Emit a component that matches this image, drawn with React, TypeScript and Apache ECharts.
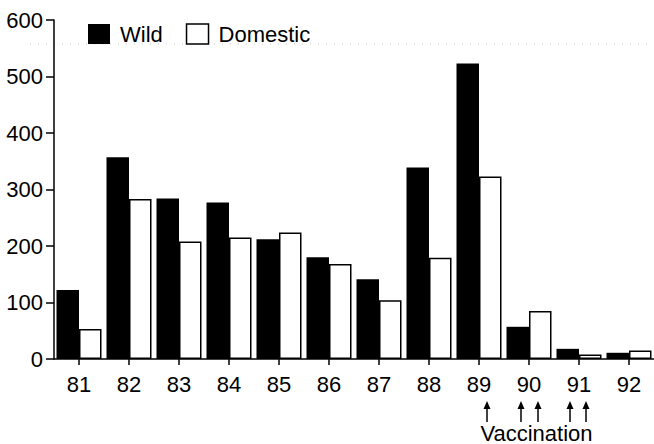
import React, { useEffect, useRef } from "react";
import * as echarts from "echarts";

const years = ["81", "82", "83", "84", "85", "86", "87", "88", "89", "90", "91", "92"];
const wild = [122, 357, 284, 277, 212, 180, 141, 339, 523, 57, 18, 11];
const domestic = [53, 283, 208, 215, 224, 168, 104, 179, 323, 85, 8, 15];
const yMin = 0;
const yMax = 600;
const yInterval = 100;
// vaccination campaigns: year and pixel offset from the category centre
const vaccinations = [
  { year: "89", offset: 8 },
  { year: "90", offset: -8 },
  { year: "90", offset: 9 },
  { year: "91", offset: -9 },
  { year: "91", offset: 7 },
];
const vaccinationLabel = "Vaccination";

const FONT = "'Liberation Sans', Arial, Helvetica, sans-serif";
const FS = 22;

export default function App() {
  const ref = useRef<HTMLDivElement>(null);
  useEffect(() => {
    if (!ref.current) return;
    const chart = echarts.init(ref.current, null, { renderer: "svg" });
    chart.setOption({
      animation: false,
      backgroundColor: "#fff",
      textStyle: { fontFamily: FONT, color: "#000" },
      grid: { left: 54, right: 0, top: 20, bottom: 85, containLabel: false },
      legend: {
        left: 88,
        top: 23,
        padding: 0,
        itemWidth: 22,
        itemHeight: 20,
        itemGap: 23,
        icon: "rect",
        textStyle: { fontSize: FS, color: "#000", fontFamily: FONT, padding: [0, 0, 0, 5] },
        data: [
          { name: "Wild", itemStyle: { color: "#000", borderWidth: 0 } },
          { name: "Domestic", itemStyle: { color: "#fff", borderColor: "#000", borderWidth: 1.5 } },
        ],
      },
      xAxis: {
        type: "category",
        data: years,
        boundaryGap: true,
        axisLine: { show: true, lineStyle: { color: "#000", width: 1.5 } },
        axisTick: { show: true, alignWithLabel: true, length: 6, lineStyle: { color: "#000", width: 1.5 } },
        axisLabel: { fontSize: FS, color: "#000", margin: 14, fontFamily: FONT },
        splitLine: { show: false },
      },
      yAxis: {
        type: "value",
        min: yMin,
        max: yMax,
        interval: yInterval,
        axisLine: { show: true, lineStyle: { color: "#000", width: 1.5 } },
        axisTick: { show: true, length: 8, lineStyle: { color: "#000", width: 1.5 } },
        axisLabel: { fontSize: FS, color: "#000", margin: 11, fontFamily: FONT },
        splitLine: { show: false },
      },
      series: [
        {
          name: "Wild",
          type: "bar",
          data: wild,
          barGap: "0%",
          barCategoryGap: "10%",
          itemStyle: { color: "#000" },
        },
        {
          name: "Domestic",
          type: "bar",
          data: domestic,
          barGap: "0%",
          barCategoryGap: "10%",
          itemStyle: { color: "#fff", borderColor: "#000", borderWidth: 1.5 },
        },
      ],
    });

    const arrowTop = 401;
    const arrowBottom = 422;
    const elements: any[] = [];
    const xs: number[] = [];
    vaccinations.forEach((v) => {
      const cx = chart.convertToPixel({ xAxisIndex: 0 }, v.year) as number;
      const x = cx + v.offset;
      xs.push(x);
      elements.push({
        type: "line",
        shape: { x1: x, y1: arrowTop + 4, x2: x, y2: arrowBottom },
        style: { stroke: "#000", lineWidth: 1.5 },
        silent: true,
      });
      elements.push({
        type: "polygon",
        shape: { points: [[x - 3.5, arrowTop + 8], [x, arrowTop], [x + 3.5, arrowTop + 8]] },
        style: { fill: "#000" },
        silent: true,
      });
    });
    const midX = (Math.min(...xs) + Math.max(...xs)) / 2;
    elements.push({
      type: "text",
      x: midX,
      y: 433,
      style: {
        text: vaccinationLabel,
        fontSize: FS,
        fontFamily: FONT,
        fill: "#000",
        align: "center",
        verticalAlign: "middle",
      },
      silent: true,
    });
    // faint dotted scan line near the top
    elements.push({
      type: "line",
      shape: { x1: 30, y1: 44, x2: 654, y2: 44 },
      style: { stroke: "#c4c4c4", lineWidth: 1, lineDash: [1, 7] },
      silent: true,
      z: -1,
    });
    chart.setOption({ graphic: elements });

    return () => chart.dispose();
  }, []);
  return (
    <div
      ref={ref}
      style={{ position: "fixed", left: 0, top: 0, width: 654, height: 444 }}
    />
  );
}
